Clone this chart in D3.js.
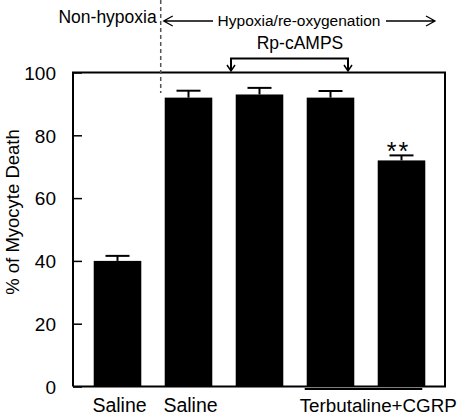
<!DOCTYPE html>
<html>
<head>
<meta charset="utf-8">
<script src="https://cdn.jsdelivr.net/npm/d3@7"></script>
<style>
  body { margin: 0; background: #fff; }
  text { font-family: "Liberation Sans", Arial, Helvetica, sans-serif; fill: #000; }
</style>
</head>
<body>
<div id="chart"></div>
<script>
// data
var barIds = ["b1", "b2", "b3", "b4", "b5"];
var deathPct = [40, 92, 93, 92, 72];
var semPct = [1.6, 2.2, 2.1, 2.1, 1.6];
var barLabels = ["Saline", "Saline", "", "", ""];
var groupLabel = "Terbutaline+CGRP";
var yTicks = [0, 20, 40, 60, 80, 100];

var svgWidth = 462;
var svgHeight = 417;

var svg = d3.select("#chart")
    .append("svg")
    .attr("width", svgWidth)
    .attr("height", svgHeight);

var plot = { left: 73, right: 445, top: 72.5, bottom: 386.5 };

var x = d3.scaleBand()
    .domain(barIds)
    .range([82, 437])
    .paddingInner(0.33)
    .paddingOuter(0.165);

var y = d3.scaleLinear()
    .domain([0, 100])
    .range([plot.bottom, plot.top]);

var data = barIds.map(function (id, i) {
    return { id: id, value: deathPct[i], sem: semPct[i], label: barLabels[i] };
});

// bars
svg.selectAll("rect.bar")
    .data(data)
    .enter()
    .append("rect")
    .attr("class", "bar")
    .attr("x", d => x(d.id))
    .attr("y", d => y(d.value))
    .attr("width", x.bandwidth())
    .attr("height", d => y(0) - y(d.value))
    .attr("fill", "#000");

// error bars
var err = svg.selectAll("g.err")
    .data(data)
    .enter()
    .append("g")
    .attr("class", "err")
    .attr("stroke", "#000")
    .attr("stroke-width", 2);

err.append("line")
    .attr("x1", d => x(d.id) + x.bandwidth() / 2)
    .attr("x2", d => x(d.id) + x.bandwidth() / 2)
    .attr("y1", d => y(d.value))
    .attr("y2", d => y(d.value + d.sem));

err.append("line")
    .attr("x1", d => x(d.id) + x.bandwidth() / 2 - 12)
    .attr("x2", d => x(d.id) + x.bandwidth() / 2 + 12)
    .attr("y1", d => y(d.value + d.sem))
    .attr("y2", d => y(d.value + d.sem));

// frame (left, top, right, bottom)
svg.append("path")
    .attr("d", `M${plot.left},${plot.bottom}V${plot.top}H${plot.right}V${plot.bottom}H${plot.left}`)
    .attr("fill", "none")
    .attr("stroke", "#000")
    .attr("stroke-width", 2);

// y axis with inward ticks
var leftAxis = d3.axisLeft(y)
    .tickValues(yTicks)
    .tickSizeInner(-9)
    .tickSizeOuter(0)
    .tickPadding(17);

var yAxisG = svg.append("g")
    .attr("transform", `translate(${plot.left},0)`)
    .call(leftAxis);
yAxisG.select(".domain").remove();
yAxisG.selectAll("line").attr("stroke-width", 1.5);
yAxisG.selectAll("text")
    .style("font-size", "19px")
    .attr("dx", "0")
    .attr("dy", "0.36em");

// y axis label
svg.append("text")
    .attr("transform", "rotate(-90)")
    .attr("x", -212)
    .attr("y", 19)
    .attr("text-anchor", "middle")
    .style("font-size", "18.5px")
    .text("% of Myocyte Death");

// bar labels
svg.selectAll("text.blabel")
    .data(data.filter(d => d.label))
    .enter()
    .append("text")
    .attr("class", "blabel")
    .attr("x", d => x(d.id) + x.bandwidth() / 2 + 2)
    .attr("y", 412)
    .attr("text-anchor", "middle")
    .style("font-size", "19.5px")
    .text(d => d.label);

// group label with underline
svg.append("line")
    .attr("x1", x("b4") - 2)
    .attr("x2", x("b5") + x.bandwidth() - 3)
    .attr("y1", 389)
    .attr("y2", 389)
    .attr("stroke", "#000")
    .attr("stroke-width", 2);

svg.append("text")
    .attr("x", x("b4") - 7)
    .attr("y", 412)
    .style("font-size", "18.8px")
    .text(groupLabel);

// significance marker
svg.append("text")
    .attr("x", x("b5") + x.bandwidth() / 2 - 3)
    .attr("y", y(deathPct[4] + semPct[4]) + 5)
    .attr("text-anchor", "middle")
    .attr("letter-spacing", 2)
    .style("font-size", "25px")
    .text("**");

// dashed separator
var sepX = x("b2") - 4;
svg.append("line")
    .attr("x1", sepX)
    .attr("x2", sepX)
    .attr("y1", 0)
    .attr("y2", 93)
    .attr("stroke", "#555")
    .attr("stroke-width", 1.5)
    .attr("stroke-dasharray", "4,3");

svg.append("text")
    .attr("x", sepX - 4)
    .attr("y", 23)
    .attr("text-anchor", "end")
    .style("font-size", "17.5px")
    .text("Non-hypoxia");

// hypoxia arrow
var arrowY = 21;
var hx0 = sepX + 3, hx1 = 435;
svg.append("text")
    .attr("x", 299)
    .attr("y", 26)
    .attr("text-anchor", "middle")
    .style("font-size", "15.5px")
    .text("Hypoxia/re-oxygenation");

var arrows = svg.append("g")
    .attr("fill", "none")
    .attr("stroke", "#000")
    .attr("stroke-width", 1.3);

arrows.append("path").attr("d", `M${hx0},${arrowY}H213M${hx0 + 9},${arrowY - 5}L${hx0},${arrowY}L${hx0 + 9},${arrowY + 5}`);
arrows.append("path").attr("d", `M386,${arrowY}H${hx1}M${hx1 - 9},${arrowY - 5}L${hx1},${arrowY}L${hx1 - 9},${arrowY + 5}`);

// Rp-cAMPS bracket
svg.append("text")
    .attr("x", 300)
    .attr("y", 49)
    .attr("text-anchor", "middle")
    .style("font-size", "17.5px")
    .text("Rp-cAMPS");

var bx0 = 231, bx1 = 348, by = 58.5, bTip = 71;
var bracket = svg.append("g")
    .attr("fill", "none")
    .attr("stroke", "#000")
    .attr("stroke-width", 2);
bracket.append("path").attr("d", `M${bx0},${bTip}V${by}H${bx1}V${bTip}`);
[bx0, bx1].forEach(function (bx) {
    bracket.append("path")
        .attr("stroke-width", 1.5)
        .attr("d", `M${bx - 4},${bTip - 6}L${bx},${bTip}L${bx + 4},${bTip - 6}`);
});
</script>
</body>
</html>
